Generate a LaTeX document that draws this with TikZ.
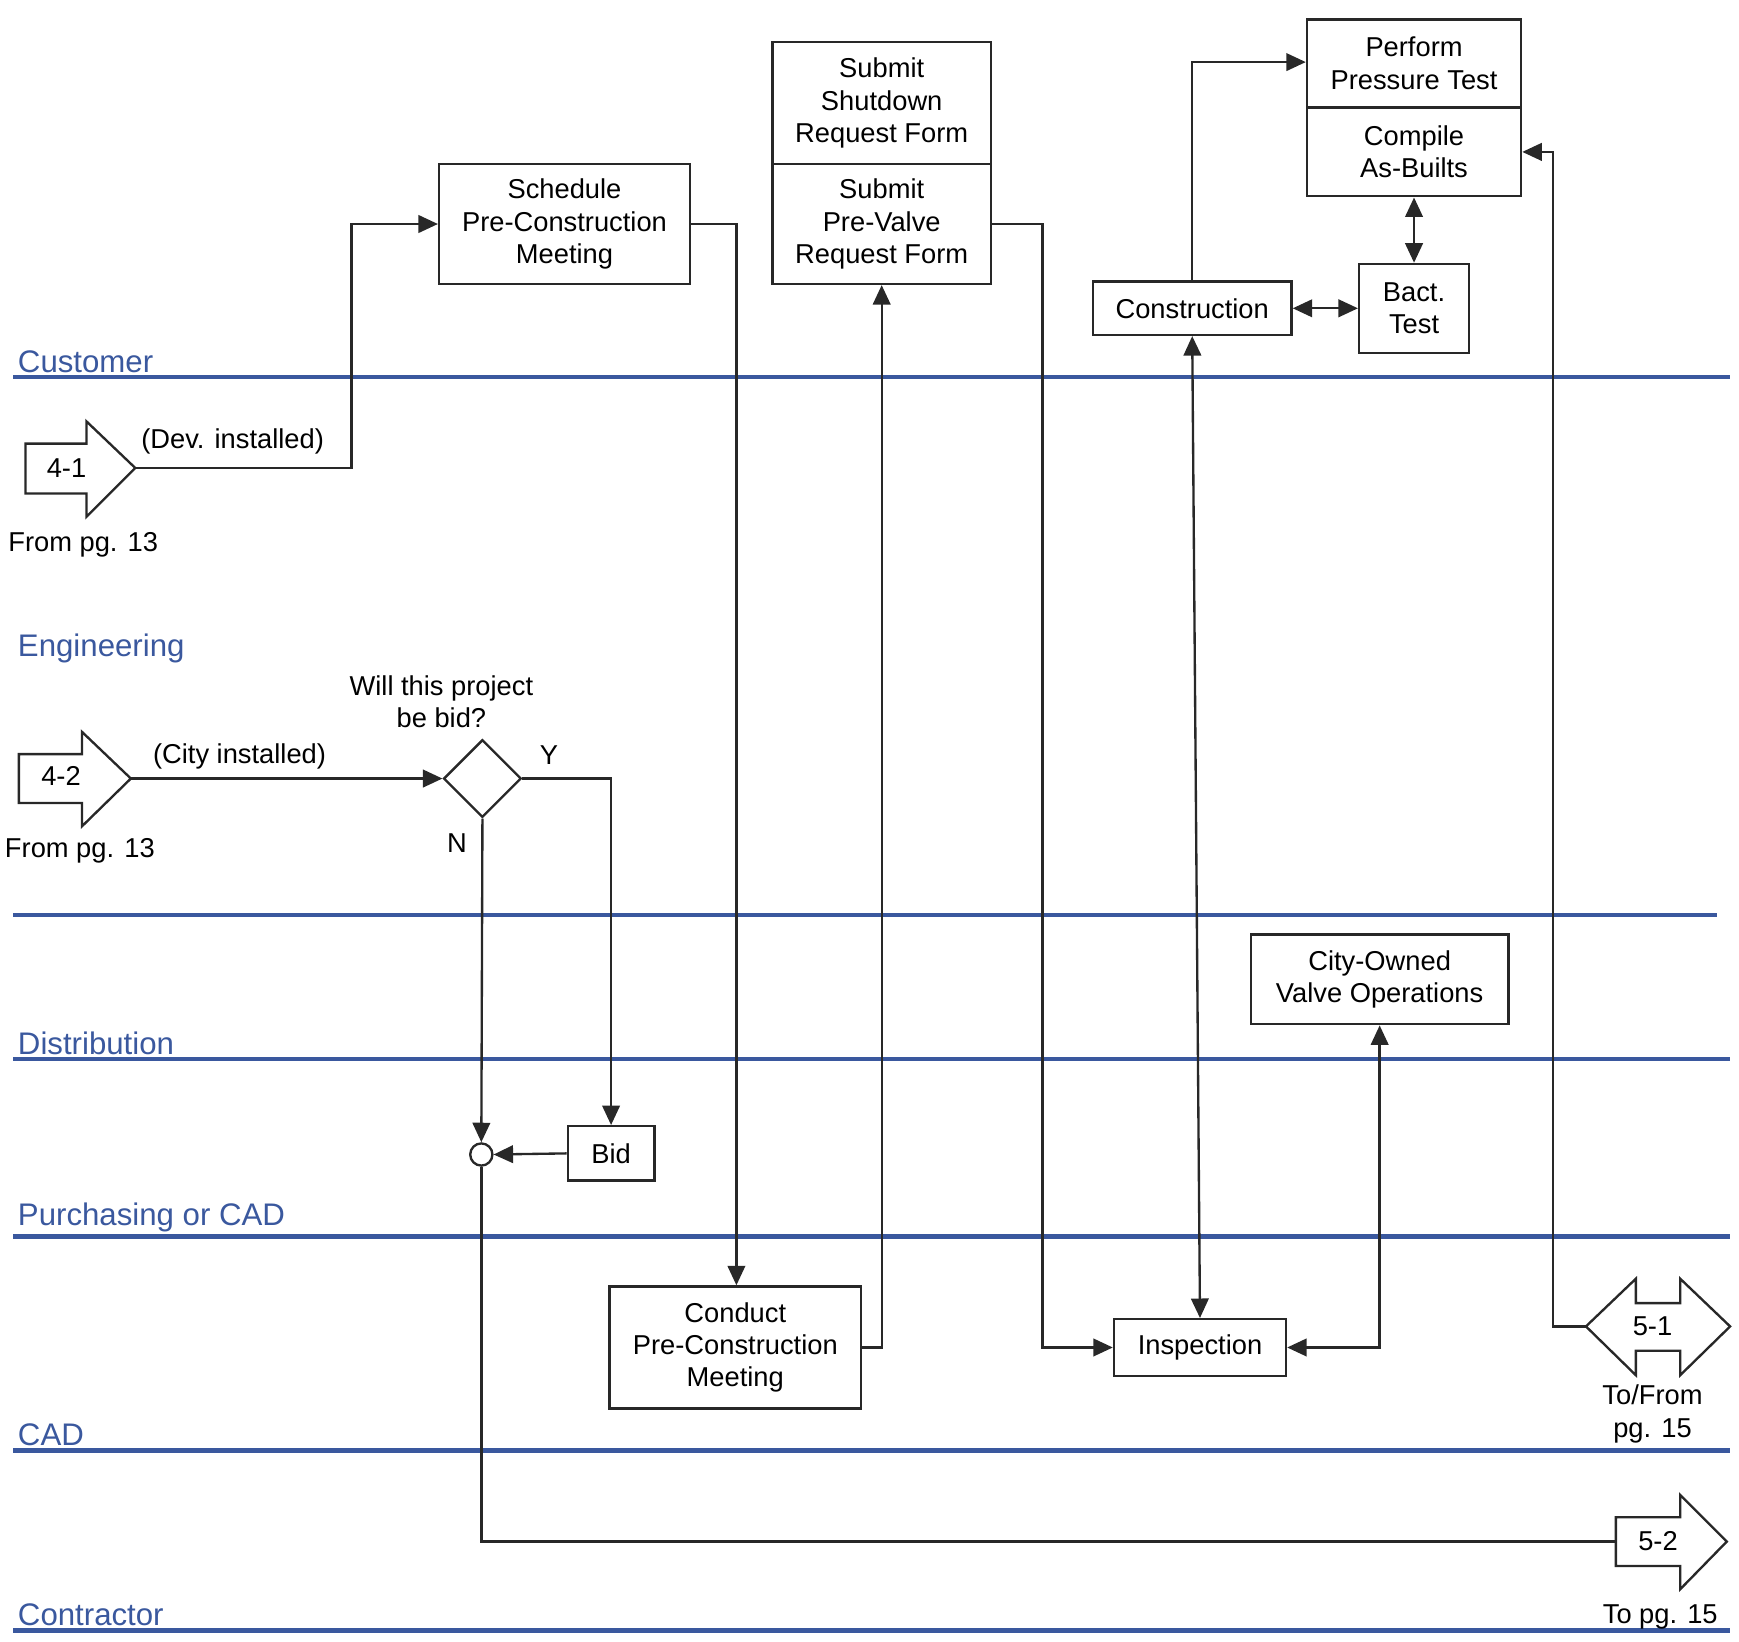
\documentclass[tikz,border=0pt]{standalone}
\usepackage{fontspec}
\setmainfont{Liberation Sans}
\usetikzlibrary{positioning,shapes.geometric,arrows.meta}
\definecolor{laneBlue}{RGB}{58,88,158}
\definecolor{boxGray}{RGB}{40,40,40}

\begin{document}
\begin{tikzpicture}[x=0.01cm, y=-0.01cm, font=\fontsize{7}{8.3}\selectfont,
    task/.style={draw=boxGray, semithick, align=center, inner sep=0pt},
    flow/.style={draw=boxGray, semithick, -{Triangle[length=5pt,width=4.5pt]}},
    both/.style={draw=boxGray, semithick, {Triangle[length=5pt,width=4.5pt]}-{Triangle[length=5pt,width=4.5pt]}},
    lane/.style={draw=laneBlue, line width=1.2pt},
    lanetext/.style={text=laneBlue, anchor=south west, inner sep=1pt, font=\fontsize{8}{10}\selectfont},
    conn/.style={draw=boxGray, semithick, fill=white}]
  \useasboundingbox (0,0) rectangle (1568,1480);

  % swim lanes
  \foreach \y/\name in {340/Customer, 955/Distribution, 1115/Purchasing or CAD, 1308/CAD, 1470/Contractor}{
    \draw[lane] (12,\y) -- (1560,\y);
    \node[lanetext] at (12,\y) {\name};
  }
  \draw[lane] (12,825) -- (1548,825);
  \node[lanetext] at (12,602) {Engineering};

  % process boxes
  \node[task, minimum width=2.26cm, minimum height=1.08cm] (sched) at (509,202) {Schedule\\Pre-Construction\\Meeting};
  \node[task, minimum width=1.97cm, minimum height=1.1cm] (shutdown) at (795,93) {Submit\\Shutdown\\Request Form};
  \node[task, minimum width=1.97cm, minimum height=1.08cm] (prevalve) at (795,202) {Submit\\Pre-Valve\\Request Form};
  \node[task, minimum width=1.93cm, minimum height=0.79cm] (pressure) at (1275,57) {Perform\\Pressure Test};
  \node[task, minimum width=1.93cm, minimum height=0.8cm] (asbuilts) at (1275,137) {Compile\\As-Builts};
  \node[task, minimum width=1.79cm, minimum height=0.48cm] (constr) at (1075,278) {Construction};
  \node[task, minimum width=0.99cm, minimum height=0.8cm] (bact) at (1275,278) {Bact.\\Test};
  \node[task, minimum width=2.32cm, minimum height=0.81cm] (cityvalve) at (1244,883) {City-Owned\\Valve Operations};
  \node[task, minimum width=0.78cm, minimum height=0.49cm] (bid) at (551,1040) {Bid};
  \node[task, minimum width=2.27cm, minimum height=1.1cm] (conduct) at (663,1215) {Conduct\\Pre-Construction\\Meeting};
  \node[task, minimum width=1.55cm, minimum height=0.51cm] (inspect) at (1082,1215) {Inspection};
  \node[task, diamond, minimum width=0.7cm, minimum height=0.7cm] (bidq) at (435,702) {};
  \node[task, circle, minimum size=0.2cm] (merge) at (434,1041) {};

  % off-page connectors
  \draw[conn] (23,400) -- (78,400) -- (78,380) -- (122,422) -- (78,466) -- (78,445) -- (23,445) -- cycle;
  \node (in1) at (60,422) {4-1};
  \coordinate (in1tip) at (122,422);
  \draw[conn] (17,680) -- (74,680) -- (74,660) -- (118,702) -- (74,745) -- (74,724) -- (17,724) -- cycle;
  \node (in2) at (55,700) {4-2};
  \coordinate (in2tip) at (118,702);
  \draw[conn] (1430,1196) -- (1475,1153) -- (1475,1175) -- (1515,1175) -- (1515,1153) -- (1560,1196)
    -- (1515,1240) -- (1515,1218) -- (1475,1218) -- (1475,1240) -- cycle;
  \node (out1) at (1490,1196) {5-1};
  \coordinate (out1tail) at (1430,1196);
  \draw[conn] (1457,1368) -- (1515,1368) -- (1515,1348) -- (1557,1390) -- (1515,1433) -- (1515,1412) -- (1457,1412) -- cycle;
  \node (out2) at (1495,1390) {5-2};
  \coordinate (out2tail) at (1457,1390);

  % texts
  \node at (75,491) {From pg. 13};
  \node at (72,767) {From pg. 13};
  \node[align=center] at (1490,1275) {To/From\\pg. 15};
  \node at (1497,1458) {To pg. 15};
  \node[align=center] at (398,633) {Will this project\\be bid?};
  \node at (216,682) {(City installed)};
  \node at (412,760) {N};

  % connectors
  \draw[flow] (in1tip) -- node[above, pos=0.45] {(Dev. installed)} (317,422) -- (317,202) -- (sched.west);
  \draw[flow] (sched.east) -- (664,202) -- (conduct.north -| 664,0);
  \draw[flow] (conduct.east) -- (795,1215) -- (prevalve.south);
  \draw[flow] (prevalve.east) -- (940,202) -- (940,1215) -- (inspect.west);
  \draw[flow] (constr.north) -- (1075,56) -- (pressure.west |- 0,56);
  \draw[both] (constr.east) -- (bact.west);
  \draw[both] (bact.north) -- (asbuilts.south);
  \draw[both] (constr.south) -- (inspect.north);
  \draw[both] (inspect.east) -- (1244,1215) -- (cityvalve.south);
  \draw[flow] (out1tail) -- (1400,1196) -- (1400,137) -- (asbuilts.east);
  \draw[flow] (in2tip) -- (bidq.west);
  \draw[flow] (bidq.east) -- node[above, pos=0.3] {Y} (551,702) -- (bid.north);
  \draw[flow] (bidq.south) -- (merge.north);
  \draw[flow] (bid.west) -- (merge.east);
  \draw[draw=boxGray, semithick] (merge.south) -- (434,1390) -- (out2tail);
\end{tikzpicture}
\end{document}
